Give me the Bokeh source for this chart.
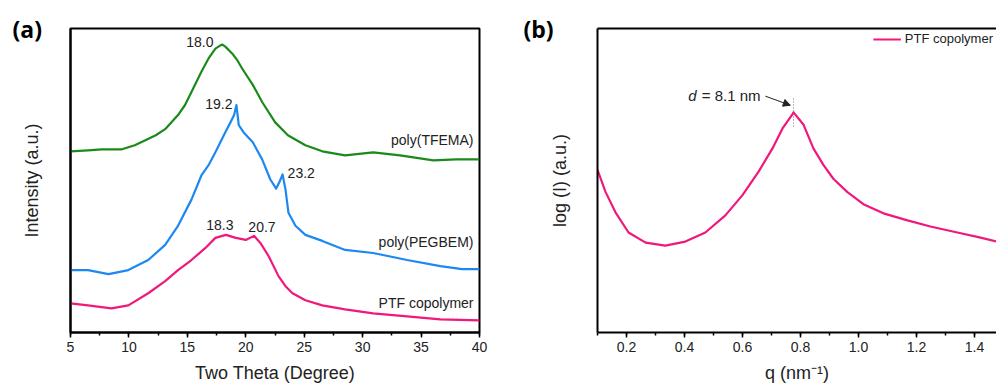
import numpy as np
from bokeh.plotting import figure
from bokeh.models import (Range1d, LinearAxis, SingleIntervalTicker, FixedTicker, Title,
                          Label, Arrow, NormalHead, Legend, LegendItem, PrintfTickFormatter)
from bokeh.layouts import row
from bokeh.embed import file_html
from bokeh.resources import INLINE

# ---------------- Panel (a): XRD patterns (offset, arbitrary units) ----------------
tfema_x = [5.0, 6.5, 7.65, 9.4, 10.5, 11.4, 12.3, 13.1, 14.2, 14.8, 15.35, 16.2, 16.8, 17.4, 17.8, 18.0,
           18.25, 18.85, 19.3, 19.7, 20.6, 21.4, 22.5, 23.6, 25.1, 26.55, 28.5, 30.9, 33.2, 36.05, 38.0, 40.0]
tfema_y = [180, 181, 182, 182, 186, 191, 196, 202, 216, 226, 239, 259, 272, 282, 285, 286,
           284, 277, 270, 262, 246, 229, 209, 196, 186, 180, 176, 179, 176, 171, 172, 172]

pegbem_x = [5.0, 6.5, 8.25, 9.95, 11.65, 13.1, 14.2, 15.35, 16.2, 16.8, 17.4, 18.25, 18.7, 19.0,
            19.2, 19.4, 19.8, 20.6, 21.4, 22.1, 22.6, 22.9, 23.15, 23.4, 23.65, 24.25, 25.1, 26.55,
            28.5, 30.9, 33.8, 36.65, 38.5, 40.0]
pegbem_y = [62, 62, 58, 62, 72, 87, 106, 132, 156, 166, 179, 199, 209, 216,
            226, 206, 199, 189, 172, 152, 143, 150, 157, 142, 119, 106, 97, 91,
            82, 79, 72, 66, 63, 63]

ptf_x = [5.0, 6.5, 8.5, 9.95, 11.65, 13.1, 14.2, 15.35, 16.55, 17.4, 18.3, 19.15, 20.0, 20.7,
         21.25, 21.95, 22.8, 23.4, 24.0, 25.1, 26.55, 28.5, 30.9, 33.8, 36.65, 40.0]
ptf_y = [29, 27, 24, 27, 39, 51, 62, 72, 84, 94, 97, 94, 92, 96,
         89, 76, 56, 46, 39, 32, 27, 23, 19, 16, 13, 12]

xrd_names = ["poly(TFEMA)", "poly(PEGBEM)", "PTF copolymer"]
xrd_colors = ["#1b8a1b", "#1e88f2", "#f0187a"]

# peak labels: (series index, peak x)
peak_series = [0, 1, 1, 2, 2]
peak_pos = [18.0, 19.2, 23.15, 18.3, 20.7]
peak_text = ["18.0", "19.2", "23.2", "18.3", "20.7"]

# ---------------- Panel (b): SAXS profile ----------------
saxs_q = [0.1, 0.128, 0.162, 0.207, 0.266, 0.334, 0.403, 0.472, 0.541, 0.6, 0.655, 0.703, 0.738,
          0.772, 0.776, 0.81, 0.845, 0.879, 0.914, 0.962, 1.017, 1.086, 1.169, 1.248, 1.341,
          1.421, 1.479]
saxs_logI = [161, 139, 119, 99, 89, 86, 90, 99, 116, 136, 159, 182, 202,
             216, 218, 206, 182, 166, 152, 139, 127, 118, 111, 105, 99,
             94, 90]

FONT = "Liberation Sans"
TXT = "#222222"


def style_bottom(ax, interval, fmt):
    ax.ticker = SingleIntervalTicker(interval=interval, num_minor_ticks=2)
    ax.formatter = PrintfTickFormatter(format=fmt)
    ax.axis_line_width = 2
    ax.axis_line_color = "black"
    ax.major_tick_in = 0
    ax.major_tick_out = 5
    ax.minor_tick_in = 0
    ax.minor_tick_out = 3
    ax.major_tick_line_width = 1.5
    ax.minor_tick_line_width = 1.5
    ax.major_label_text_font = FONT
    ax.major_label_text_font_size = "14px"
    ax.major_label_text_color = TXT
    ax.major_label_standoff = 4
    ax.axis_label_text_font = FONT
    ax.axis_label_text_font_size = "18px"
    ax.axis_label_text_font_style = "normal"
    ax.axis_label_text_color = TXT
    ax.axis_label_standoff = 8


def style_left(ax, label, standoff):
    ax.ticker = FixedTicker(ticks=[])
    ax.axis_line_width = 2
    ax.axis_line_color = "black"
    ax.major_tick_line_color = None
    ax.minor_tick_line_color = None
    ax.axis_label = label
    ax.axis_label_text_font = FONT
    ax.axis_label_text_font_size = "18px"
    ax.axis_label_text_font_style = "normal"
    ax.axis_label_text_color = TXT
    ax.axis_label_standoff = standoff


def panel_title(text, offset):
    return Title(text=text, align="left", offset=offset, standoff=-33,
                 text_font="Open Sans", text_font_size="23px", text_font_style="bold",
                 text_color="black")


# ---------------- figure (a) ----------------
p1 = figure(width=500, height=385, x_range=Range1d(5, 40), y_range=Range1d(0, 302),
            output_backend="svg", toolbar_location=None,
            min_border_left=70, min_border_right=21, min_border_top=27, min_border_bottom=40)
p1.title = panel_title("(a)", -58)
p1.xgrid.visible = False
p1.ygrid.visible = False
p1.outline_line_color = "black"
p1.outline_line_width = 2
p1.outline_line_alpha = 1
style_bottom(p1.xaxis[0], 5, "%d")
p1.xaxis[0].axis_label = "Two Theta (Degree)"
style_left(p1.yaxis[0], "Intensity (a.u.)", 29)

series = [(tfema_x, tfema_y), (pegbem_x, pegbem_y), (ptf_x, ptf_y)]
for (xs, ys), c in zip(series, xrd_colors):
    p1.line(xs, ys, line_color=c, line_width=2.2, line_join="round")

# peak value labels
offsets = [(-9, 3, "right"), (-4, 1, "right"), (5, 1, "left"), (-6, 10, "center"), (8, 9, "center")]
for si, px, t, (dx, dy, al) in zip(peak_series, peak_pos, peak_text, offsets):
    xs, ys = series[si]
    py = ys[xs.index(px)]
    p1.add_layout(Label(x=px, y=py, text=t, x_offset=dx, y_offset=dy, text_align=al,
                        text_baseline="middle", text_font=FONT, text_font_size="14px",
                        text_color=TXT))

# curve names at right end
name_dy = [19, 27, 17]
for (xs, ys), name, dy in zip(series, xrd_names, name_dy):
    p1.add_layout(Label(x=xs[-1], y=ys[-1], text=name, x_offset=-6, y_offset=dy,
                        text_align="right", text_baseline="middle", text_font=FONT,
                        text_font_size="14px", text_color=TXT))

# ---------------- figure (b) ----------------
p2 = figure(width=496, height=385, x_range=Range1d(0.1, 1.476), y_range=Range1d(0, 301),
            output_backend="svg", toolbar_location=None,
            min_border_left=97, min_border_right=0, min_border_top=28, min_border_bottom=40)
p2.title = panel_title("(b)", -74)
p2.xgrid.visible = False
p2.ygrid.visible = False
p2.outline_line_color = None
style_bottom(p2.xaxis[0], 0.2, "%.1f")
p2.xaxis[0].axis_label = "q (nm\u207b\u00b9)"
style_left(p2.yaxis[0], "log (I) (a.u.)", 28)

top_ax = LinearAxis(ticker=FixedTicker(ticks=[]), axis_line_width=2, axis_line_color="black",
                    major_tick_line_color=None, minor_tick_line_color=None,
                    major_label_text_font_size="0px")
p2.add_layout(top_ax, "above")

r = p2.line(saxs_q, saxs_logI, line_color=xrd_colors[2], line_width=2.2, line_join="round")

pk = int(np.argmax(saxs_logI))
pk_q, pk_y = saxs_q[pk], saxs_logI[pk]
p2.segment(x0=[pk_q], y0=[pk_y - 14], x1=[pk_q], y1=[pk_y + 15], line_color="#777777",
           line_width=1, line_dash="1 2")
p2.add_layout(Arrow(end=NormalHead(size=7, fill_color=TXT, line_color=TXT),
                    x_start=pk_q - 0.097, y_start=pk_y + 16, x_end=pk_q - 0.011, y_end=pk_y + 7,
                    line_color=TXT, line_width=1))
p2.add_layout(Label(x=pk_q, y=pk_y, text="= 8.1 nm", x_offset=-33, y_offset=17,
                    text_align="right", text_baseline="middle", text_font=FONT,
                    text_font_size="15px", text_color=TXT))
p2.add_layout(Label(x=pk_q, y=pk_y, text="d", x_offset=-97, y_offset=17,
                    text_align="right", text_baseline="middle", text_font=FONT,
                    text_font_size="15px", text_font_style="italic", text_color=TXT))

legend = Legend(items=[LegendItem(label="PTF copolymer", renderers=[r])], location="top_right",
                border_line_color=None, background_fill_alpha=0, glyph_width=28, glyph_height=10,
                label_text_font=FONT, label_text_font_size="13px", label_text_color=TXT,
                margin=3, padding=2, label_standoff=4)
p2.add_layout(legend)

layout = row(p1, p2)
open("out.html", "w").write(file_html(layout, INLINE))
